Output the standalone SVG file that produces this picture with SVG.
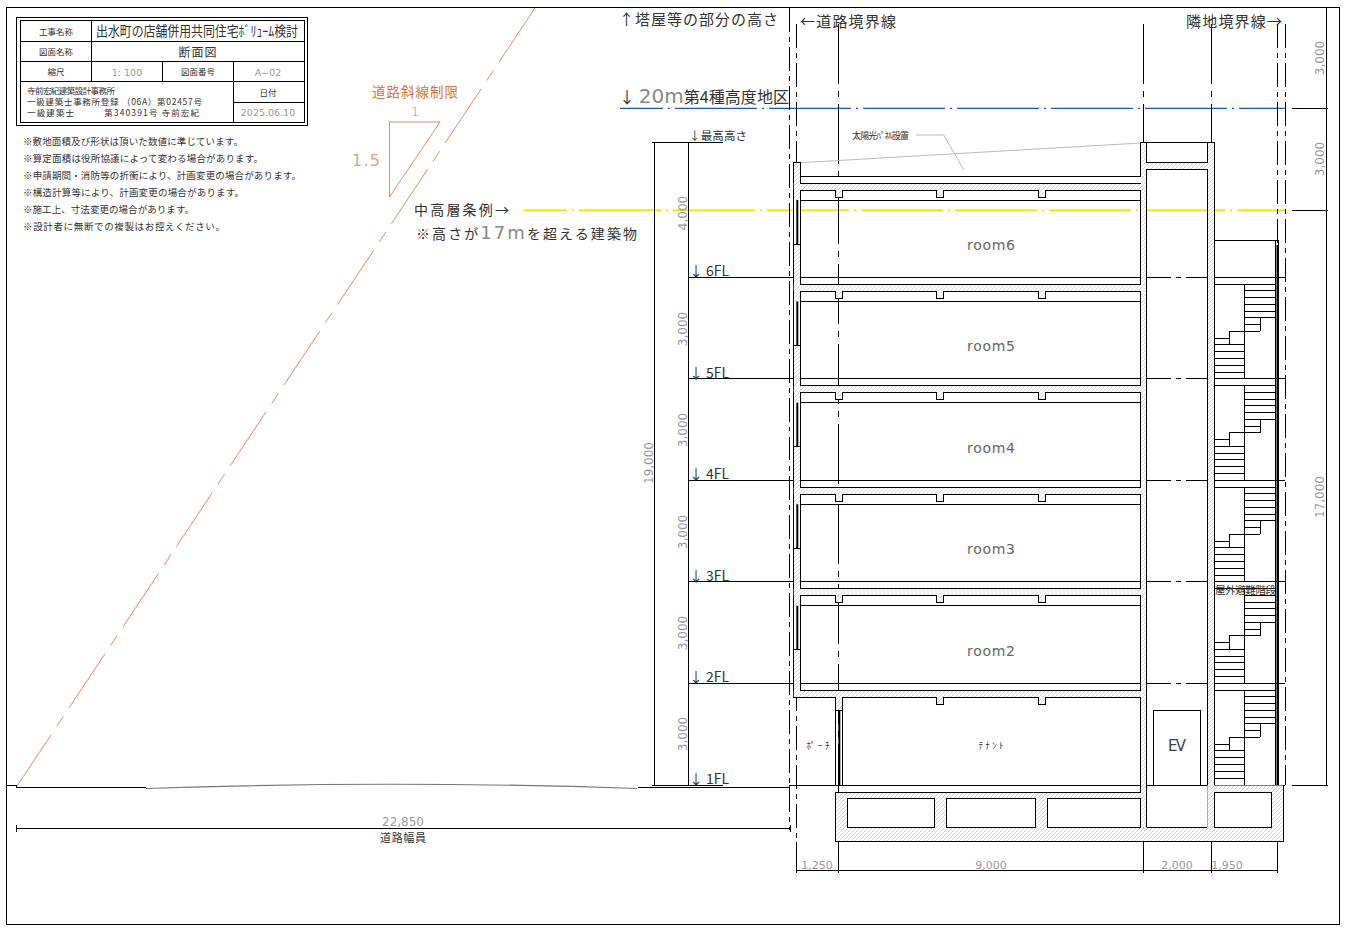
<svg xmlns="http://www.w3.org/2000/svg" xmlns:xlink="http://www.w3.org/1999/xlink" width="1349" height="934" viewBox="0 0 1349 934">
<style>
text{font-family:"Noto Sans CJK JP","DejaVu Sans",sans-serif;fill:#333}
.n{font-family:"DejaVu Sans","Liberation Sans",sans-serif;fill:#999;font-size:11px;text-anchor:middle}
.big{font-family:"DejaVu Sans",sans-serif;fill:#888}
.l{fill:none;stroke:#000;stroke-width:1;shape-rendering:crispEdges}
.h{fill:url(#hatch);stroke:none}
.chain{fill:none;stroke:#000;stroke-width:1;stroke-dasharray:60 7 6 7;shape-rendering:crispEdges}
.bnd{fill:none;stroke:#000;stroke-width:1;stroke-dasharray:24 5 5 5;shape-rendering:crispEdges}
.gl{fill:none;stroke:#bbb;stroke-width:1}
.or{fill:none;stroke:#dc8d6c;stroke-width:1}
.room{font-family:"DejaVu Sans",sans-serif;fill:#666;font-size:14px;text-anchor:middle}
</style>
<defs>
<pattern id="hatch" patternUnits="userSpaceOnUse" width="4" height="4"><rect width="4" height="4" fill="#fff"/><path d="M-1 5L5-1" stroke="#c8c8c8" stroke-width=".8"/></pattern>
<g id="slab">
<rect class="h" x="793.8" y="7" width="352" height="7"/>
<rect class="h" x="835.8" y="14" width="6.5" height="7"/><rect class="h" x="936.8" y="14" width="6.5" height="7"/><rect class="h" x="1038.8" y="14" width="6.5" height="7"/>
<rect x="794" y="24" width="6" height="44" fill="#fff"/>
<path class="l" d="M800.3 7H1140.7M800.3 14H835.3V21H842.6V14H936.3V21H943.6V14H1038.3V21H1045.6V14H1140.7M800.3 24H1140.7M793.3 68H800.3"/>
<path d="M797.3 24V68" stroke="#000" stroke-width="2" fill="none"/>
</g>
<g id="stair"><path class="l" d="M1214.7 6.77H1275.3M1244.7 13.53H1275.3M1244.7 20.3H1275.3M1244.7 27.07H1275.3M1244.7 33.83H1275.3M1244.7 40.6H1275.3M1244.7 47.37H1260.3M1229.3 54.13H1260.3M1260.3 40.6V54.13M1229.3 54.13V67.67M1214.7 60.9H1229.3M1214.7 67.67H1244.7M1214.7 74.43H1244.7M1214.7 81.2H1244.7M1214.7 87.97H1244.7M1214.7 94.73H1244.7M1244.7 6.77V101.5M1214.7 0H1285.3"/></g>
</defs>
<rect width="1349" height="934" fill="#fff"/>
<rect id="frame" class="l" x="6.5" y="7.5" width="1333" height="917"/>

<g id="title-block">
<rect class="l" x="16.5" y="17.5" width="291" height="108"/>
<rect class="l" x="20.5" y="20.5" width="283.5" height="102"/>
<path class="l" d="M20.5 41.3H304M20.5 61.3H304M20.5 81.3H304M91.3 20.5V81.3M162.3 61.3V81.3M233.3 61.3V122.5M233.3 102.3H304"/>
<text x="56" y="34.5" font-size="8.5" text-anchor="middle">工事名称</text>
<text x="96" y="36" font-size="14" textLength="202" lengthAdjust="spacingAndGlyphs">出水町の店舗併用共同住宅ﾎﾞﾘｭｰﾑ検討</text>
<text x="56" y="54.5" font-size="8.5" text-anchor="middle">図面名称</text>
<text x="198" y="56.5" font-size="12" text-anchor="middle" letter-spacing="1">断面図</text>
<text x="56" y="75" font-size="8.5" text-anchor="middle">縮尺</text>
<text x="127" y="75.5" class="n" style="font-size:9.5px">1: 100</text>
<text x="198" y="75" font-size="8.5" text-anchor="middle">図面番号</text>
<text x="268" y="75.5" class="n" style="font-size:9.5px">A−02</text>
<text x="268" y="95.5" font-size="8.5" text-anchor="middle">日付</text>
<text x="268" y="116" class="n" style="font-size:9.5px">2025.06.10</text>
<text x="27" y="94" font-size="8.5" textLength="88">寺前宏紀建築設計事務所</text>
<text x="27" y="105" font-size="8.5" textLength="175">一級建築士事務所登録 （06A）第02457号</text>
<text x="27" y="115.5" font-size="8.5" textLength="172">一級建築士　　　第340391号 寺前宏紀</text>
</g>

<g id="notes">
<text x="23" y="145" font-size="9.5" textLength="220">※敷地面積及び形状は頂いた数値に準じています。</text>
<text x="23" y="162" font-size="9.5" textLength="240">※算定面積は役所協議によって変わる場合があります。</text>
<text x="23" y="179" font-size="9.5" textLength="278">※申請期間・消防等の折衝により、計画変更の場合があります。</text>
<text x="23" y="196" font-size="9.5" textLength="221">※構造計算等により、計画変更の場合があります。</text>
<text x="23" y="213" font-size="9.5" textLength="171">※施工上、寸法変更の場合があります。</text>
<text x="23" y="230" font-size="9.5" textLength="202">※設計者に無断での複製はお控えください。</text>
</g>

<g id="connectors">
<path d="M535 8L17 786" fill="none" stroke="#dc8d6c" stroke-width="1" stroke-dasharray="65 10 12 10"/>
<path class="or" d="M389.5 122H440L389.5 197Z"/>
<path d="M620 108.3H1285" fill="none" stroke="#1f4fe0" stroke-width="1.2" stroke-dasharray="82 5 2 5" stroke-dashoffset="39"/>
<path d="M524 210.3H1285" fill="none" stroke="#f0e000" stroke-width="1.4" stroke-dasharray="82 5 2 5" stroke-dashoffset="39"/>
<path class="l" d="M1292 108.3H1327.7M1292 210.3H1327.7M1292 785.3H1327.7M1326.7 7.5V785.3"/>
<path class="l" d="M654.3 142.3V786M688.3 142.3V786M652.3 142.3H723M652.3 785.3H723"/>
<path class="l" d="M689 277.3H1140.7M689 378.8H1140.7M689 480.3H1140.7M689 581.8H1140.7M689 683.3H1140.7"/>
<path class="bnd" d="M1146.7 277.3H1214M1146.7 378.8H1214M1146.7 480.3H1214M1146.7 581.8H1214M1146.7 683.3H1214"/>
<path class="l" d="M6.5 785H16.3V787.3H146M638 787.3H789.3V785.5H1285.3"/>
<path d="M146 788.5Q390 780 637 788.5" fill="none" stroke="#777" stroke-width="1.2"/>
<path class="l" d="M16.5 828.3H790M16.5 825V831.5M790 825V831.5"/>
<path class="l" d="M796.3 870.3H1277.3M796.3 842V873M838.3 841V873M1143.3 841V873M1211.3 841V873M1277.3 841V873"/>
<path class="chain" d="M838.3 24V841M1143.3 24V841M1211.3 24V841"/>
<path class="bnd" d="M789.3 7.5V830M796.3 24V842M1277.3 24V842M1285.3 24V785"/>
<path class="gl" d="M916 135H943.7L964 170M800.3 162.7L1140.7 143"/>
</g>

<g id="labels">
<text x="619" y="24.5" font-size="15" textLength="159">↑塔屋等の部分の高さ</text>
<text x="800" y="26.5" font-size="15" textLength="96">←道路境界線</text>
<text x="1186" y="26.5" font-size="15" textLength="96">隣地境界線→</text>
<text x="619" y="102.5" font-size="16" textLength="170">↓ <tspan class="big" font-size="20">20m</tspan>第4種高度地区</text>
<text x="414" y="215" font-size="14" textLength="95">中高層条例→</text>
<text x="416" y="238.5" font-size="14" textLength="221">※高さが<tspan class="big" font-size="18">17m</tspan>を超える建築物</text>
<text x="372" y="97" font-size="13.5" textLength="86" style="fill:#d4763c">道路斜線制限</text>
<text x="415" y="116" font-size="12" text-anchor="middle" style="fill:#bbb;font-family:'DejaVu Sans'">1</text>
<text x="352" y="166" font-size="16" textLength="28" style="fill:#e0a488;font-family:'DejaVu Sans'">1.5</text>
<text x="689" y="140" font-size="11.5" textLength="58">↓最高高さ</text>
<text x="689" y="276" font-size="14" textLength="40">↓ 6FL</text>
<text x="689" y="377.5" font-size="14" textLength="40">↓ 5FL</text>
<text x="689" y="479" font-size="14" textLength="40">↓ 4FL</text>
<text x="689" y="580.5" font-size="14" textLength="40">↓ 3FL</text>
<text x="689" y="682" font-size="14" textLength="40">↓ 2FL</text>
<text x="689" y="784" font-size="14" textLength="40">↓ 1FL</text>
<text class="n" transform="translate(653 463) rotate(-90)" style="font-size:12px">19,000</text>
<text class="n" transform="translate(687 213) rotate(-90)" style="font-size:12px">4,000</text>
<text class="n" transform="translate(687 329) rotate(-90)" style="font-size:12px">3,000</text>
<text class="n" transform="translate(687 430) rotate(-90)" style="font-size:12px">3,000</text>
<text class="n" transform="translate(687 532) rotate(-90)" style="font-size:12px">3,000</text>
<text class="n" transform="translate(687 633) rotate(-90)" style="font-size:12px">3,000</text>
<text class="n" transform="translate(687 734) rotate(-90)" style="font-size:12px">3,000</text>
<text class="n" transform="translate(1324 58) rotate(-90)" style="font-size:12px">3,000</text>
<text class="n" transform="translate(1324 159) rotate(-90)" style="font-size:12px">3,000</text>
<text class="n" transform="translate(1324 497) rotate(-90)" style="font-size:12px">17,000</text>
<text class="n" x="403" y="826" style="font-size:12px">22,850</text>
<text x="403" y="842" font-size="11" text-anchor="middle" textLength="46">道路幅員</text>
<text class="n" x="817" y="869">1,250</text>
<text class="n" x="991" y="869">9,000</text>
<text class="n" x="1177" y="869">2,000</text>
<text class="n" x="1227" y="869">1,950</text>
</g>

<g id="building-walls">
<rect class="h" x="793.8" y="163" width="6" height="534"/>
<rect class="h" x="1141" y="143" width="5.5" height="684"/>
<rect class="h" x="1207.5" y="143" width="7" height="684"/>
<rect class="h" x="1146.7" y="162.3" width="60.6" height="7"/>
<path class="l" d="M793.3 162.3H800.3V183M793.3 162.3V697.3M1140.7 142.3H1214.7M1140.7 142.3V176.3M1146.7 142.3V162.3H1207.3V142.3M1146.7 169.3H1207.3M1146.7 169.3V827.3H1207.3V169.3M1214.7 142.3V785.3"/>
<path class="l" d="M800.3 190V284.3M800.3 291.3V385.8M800.3 392.8V487.3M800.3 494.3V588.8M800.3 595.8V690.3M1140.7 190V284.3M1140.7 291.3V385.8M1140.7 392.8V487.3M1140.7 494.3V588.8M1140.7 595.8V690.3M1140.7 697.3V792.3M1140.7 798.3V827.3"/>
</g>

<g id="roof"><path class="l" d="M800.3 176.3H1140.7"/><use href="#slab" y="176"/></g>
<g id="floor-6"><use href="#slab" y="277.3"/><text x="991" y="250" class="room" textLength="48">room6</text></g>
<g id="floor-5"><use href="#slab" y="378.8"/><text x="991" y="351" class="room" textLength="48">room5</text></g>
<g id="floor-4"><use href="#slab" y="480.3"/><text x="991" y="453" class="room" textLength="48">room4</text></g>
<g id="floor-3"><use href="#slab" y="581.8"/><text x="991" y="554" class="room" textLength="48">room3</text></g>
<g id="floor-2"><text x="991" y="656" class="room" textLength="48">room2</text>
<rect class="h" x="793.8" y="690.3" width="352" height="7"/><rect class="h" x="835.8" y="697" width="6.5" height="13.5"/><rect class="h" x="936.8" y="697" width="6.5" height="7"/><rect class="h" x="1038.8" y="697" width="6.5" height="7"/>
<path class="l" d="M800.3 690.3H1140.7M793.3 697.3H835.3V785.5M842.6 785.5V697.3H936.3V704.6H943.6V697.3H1038.3V704.6H1045.6V697.3H1140.7M835.3 710.7H842.6"/>
<path d="M839.3 710.7V785.5" stroke="#000" stroke-width="2" fill="none"/>
</g>
<g id="floor-1"><text x="818" y="749" font-size="9" text-anchor="middle" textLength="23">ﾎﾟｰﾁ</text><text x="991" y="749" font-size="9" text-anchor="middle" textLength="25">ﾃﾅﾝﾄ</text></g>

<g id="basement">
<path class="h" fill-rule="evenodd" d="M835.8 792.5H1140.7V827.5H1207.3V785.5H1283V841H835.8ZM847.3 798.3V827.3H934.7V798.3ZM946.3 798.3V827.3H1035.7V798.3ZM1047.3 798.3V827.3H1140.7V798.3ZM1214.3 792.3V827.3H1271.7V792.3Z"/>
<path class="l" d="M835.3 792.3H1140.7M835.3 792.3V841.3H1283.3V785.5M1147 827.3H1207"/>
<rect class="l" x="847.3" y="798.3" width="87.4" height="29"/><rect class="l" x="946.3" y="798.3" width="89.4" height="29"/><path class="l" d="M1140.7 798.3H1047.3V827.3H1140.7"/><rect class="l" x="1214.3" y="792.3" width="57.4" height="35"/>
</g>

<g id="ev"><rect class="l" x="1153.3" y="710.3" width="47.4" height="75"/><text x="1177" y="751" font-size="15" text-anchor="middle" style="font-family:'DejaVu Sans';fill:#444" textLength="18">EV</text></g>

<g id="stairs">
<path class="l" d="M1214.7 240.3H1278.7V785.3M1275.3 240.3V785.3"/>
<path d="M1277.5 245V785" stroke="#000" stroke-width="2" fill="none"/>
<use href="#stair" y="277.3"/><use href="#stair" y="378.8"/><use href="#stair" y="480.3"/><use href="#stair" y="581.8"/><use href="#stair" y="683.3"/>
<text x="1215" y="594" font-size="10.5" textLength="61">屋外避難階段</text>
</g>

<g id="solar"><text x="852" y="138.5" font-size="9" textLength="57">太陽光ﾊﾟﾈﾙ設置</text></g>
</svg>
